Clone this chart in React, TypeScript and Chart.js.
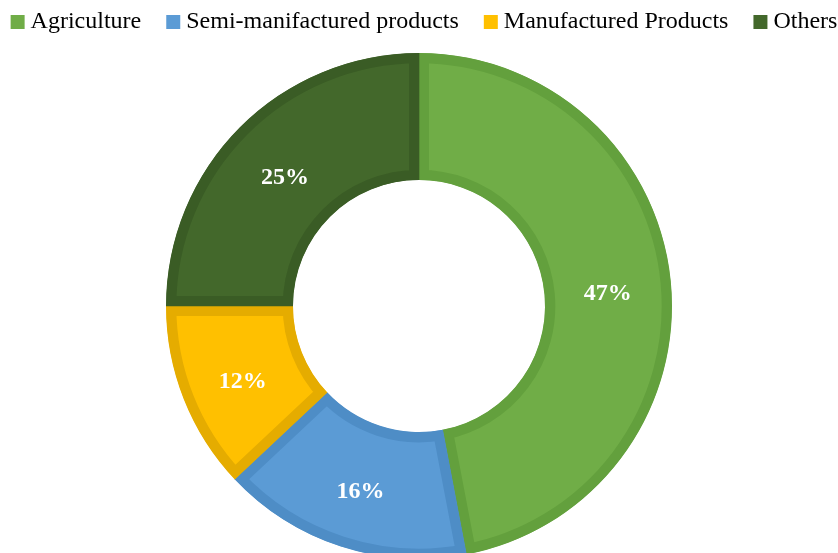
import React, { useEffect, useRef } from "react";
import { Chart, registerables } from "chart.js";

Chart.register(...registerables);

const categories = ["Agriculture", "Semi-manifactured products", "Manufactured Products", "Others"];
const shares = [47, 16, 12, 25];
const fillColors = ["#70AD47", "#5B9BD5", "#FFC000", "#43682B"];
const edgeColors = ["#63A03D", "#4E8DC6", "#E5AC00", "#3A5C25"];

const SERIF = "'Liberation Serif', 'Times New Roman', serif";
const LABEL_DROP = 6;

const labelPlugin = {
  id: "sliceLabels",
  afterDatasetsDraw(chart: any) {
    const ctx = chart.ctx;
    const meta = chart.getDatasetMeta(0);
    ctx.save();
    ctx.font = "bold 24px " + SERIF;
    ctx.fillStyle = "#ffffff";
    ctx.textAlign = "center";
    ctx.textBaseline = "middle";
    meta.data.forEach((arc: any, i: number) => {
      const p = arc.tooltipPosition();
      ctx.fillText(shares[i] + "%", p.x, p.y + LABEL_DROP);
    });
    ctx.restore();
  },
};

function makeSwatch(color: string) {
  const c = document.createElement("canvas");
  c.width = 32;
  c.height = 14;
  const g = c.getContext("2d")!;
  g.fillStyle = color;
  g.fillRect(17, 0, 14, 14);
  return c;
}

export default function App() {
  const ref = useRef<HTMLCanvasElement | null>(null);
  useEffect(() => {
    if (!ref.current) return;
    const swatches = fillColors.map(makeSwatch);
    const baseGen = (Chart as any).overrides.doughnut.plugins.legend.labels.generateLabels;
    const chart = new Chart(ref.current, {
      type: "doughnut",
      data: {
        labels: categories,
        datasets: [
          {
            data: shares,
            backgroundColor: fillColors,
            borderColor: edgeColors,
            borderWidth: 10,
            borderAlign: "inner",
            borderJoinStyle: "miter",
          } as any,
        ],
      },
      options: {
        responsive: false,
        animation: false,
        radius: 253,
        cutout: "49.8%",
        layout: { padding: { top: -5, left: -20, right: -20, bottom: 0 } },
        plugins: {
          tooltip: { enabled: false },
          legend: {
            position: "top",
            labels: {
              color: "#000000",
              font: { family: SERIF, size: 24 },
              usePointStyle: true,
              boxWidth: 18,
              boxHeight: 14,
              padding: 15,
              generateLabels: (c: any) =>
                baseGen(c).map((it: any, i: number) => ({
                  ...it,
                  lineWidth: 0,
                  strokeStyle: "rgba(0,0,0,0)",
                  pointStyle: swatches[i],
                })),
            },
          },
        },
      } as any,
      plugins: [labelPlugin],
    });
    return () => chart.destroy();
  }, []);
  return (
    <div style={{ position: "fixed", top: 0, left: 0, width: 838, height: 553, overflow: "hidden", background: "#fff" }}>
      <canvas ref={ref} width={838} height={568} style={{ display: "block", width: 838, height: 568 }} />
    </div>
  );
}
